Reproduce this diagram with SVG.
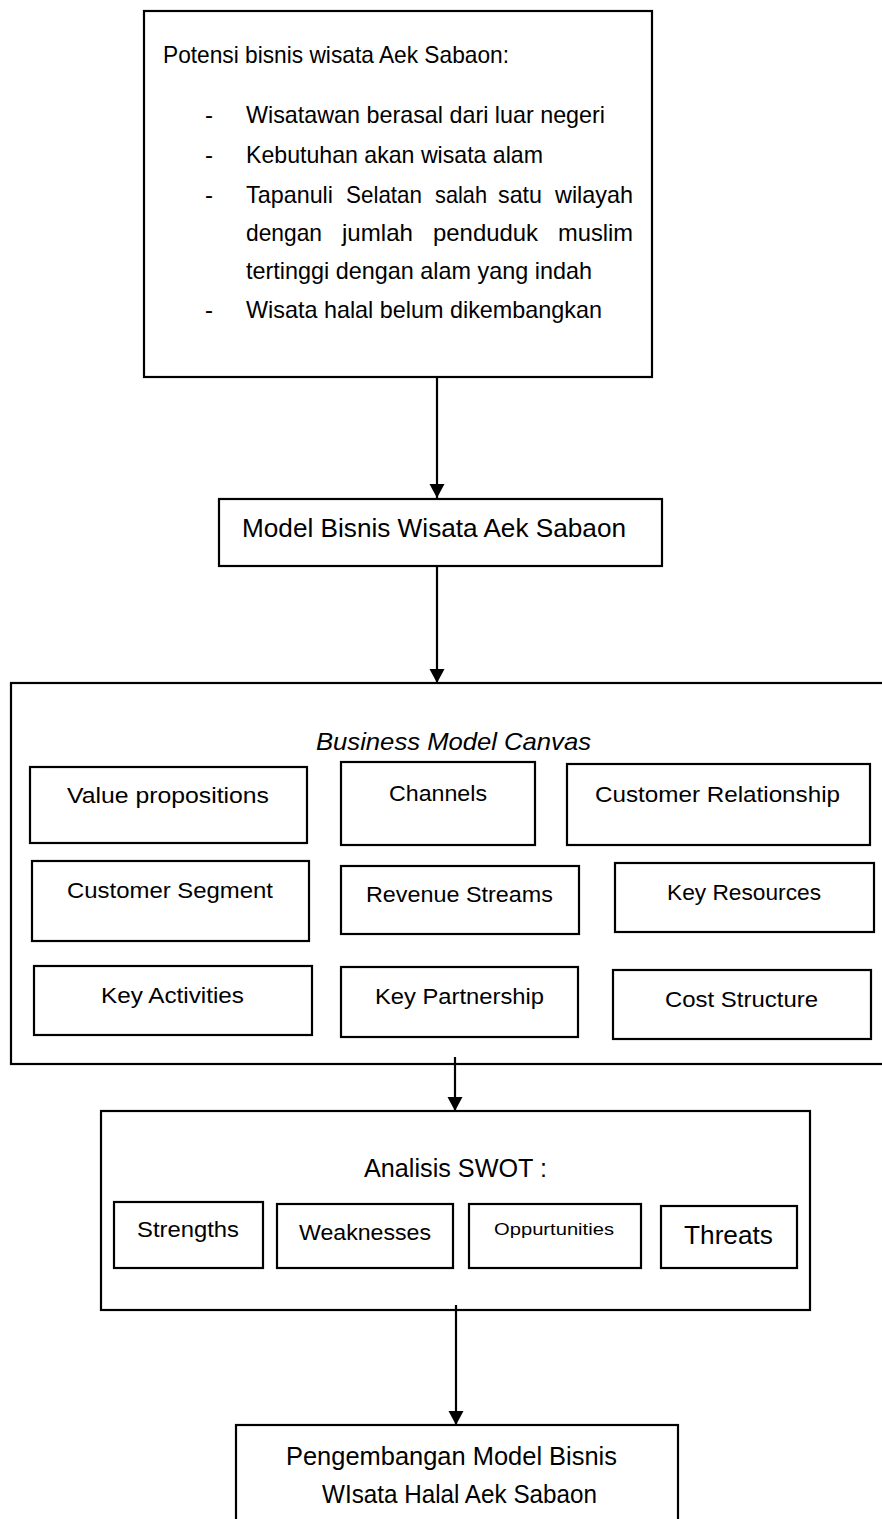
<svg xmlns="http://www.w3.org/2000/svg" width="882" height="1519" viewBox="0 0 882 1519">
<style>
rect{fill:#fff;stroke:#000;stroke-width:2.2}
text{font-family:"Liberation Sans",Arial,sans-serif;fill:#000}
.c line{stroke:#000;stroke-width:2.2}
.t23{font-size:24px}
.t22{font-size:22px}
.t24{font-size:25px}
</style>
<defs>
<marker id="arr" markerWidth="16" markerHeight="16" refX="14" refY="7.5" orient="auto" markerUnits="userSpaceOnUse"><path d="M0,0 L14,7.5 L0,15 z" fill="#000"/></marker>
</defs>
<rect x="-5" y="-5" width="892" height="1529" style="stroke:none"/>

<g id="potensi">
<rect x="144" y="11" width="508" height="366"/>
<text class="t23" x="163" y="63" textLength="346" lengthAdjust="spacingAndGlyphs">Potensi bisnis wisata Aek Sabaon:</text>
<text class="t23" x="205" y="123">-</text>
<text class="t23" x="246" y="123" textLength="359" lengthAdjust="spacingAndGlyphs">Wisatawan berasal dari luar negeri</text>
<text class="t23" x="205" y="163">-</text>
<text class="t23" x="246" y="163" textLength="297" lengthAdjust="spacingAndGlyphs">Kebutuhan akan wisata alam</text>
<text class="t23" x="205" y="203">-</text>
<text class="t23" y="203"><tspan x="246" textLength="87" lengthAdjust="spacingAndGlyphs">Tapanuli</tspan><tspan x="346" textLength="76" lengthAdjust="spacingAndGlyphs">Selatan</tspan><tspan x="435" textLength="52" lengthAdjust="spacingAndGlyphs">salah</tspan><tspan x="498" textLength="44" lengthAdjust="spacingAndGlyphs">satu</tspan><tspan x="555" textLength="78" lengthAdjust="spacingAndGlyphs">wilayah</tspan></text>
<text class="t23" y="241"><tspan x="246" textLength="76" lengthAdjust="spacingAndGlyphs">dengan</tspan><tspan x="342" textLength="71" lengthAdjust="spacingAndGlyphs">jumlah</tspan><tspan x="433" textLength="105" lengthAdjust="spacingAndGlyphs">penduduk</tspan><tspan x="558" textLength="75" lengthAdjust="spacingAndGlyphs">muslim</tspan></text>
<text class="t23" x="246" y="279" textLength="346" lengthAdjust="spacingAndGlyphs">tertinggi dengan alam yang indah</text>
<text class="t23" x="205" y="318">-</text>
<text class="t23" x="246" y="318" textLength="356" lengthAdjust="spacingAndGlyphs">Wisata halal belum dikembangkan</text>
</g>

<g id="model">
<rect x="219" y="499" width="443" height="67"/>
<text class="t24" x="242" y="537" textLength="384" lengthAdjust="spacingAndGlyphs">Model Bisnis Wisata Aek Sabaon</text>
</g>

<g id="canvas">
<rect x="11" y="683" width="885" height="381"/>
<text class="t23" x="316" y="750" font-style="italic" textLength="275" lengthAdjust="spacingAndGlyphs">Business Model Canvas</text>
</g>
<g id="value-propositions">
<rect x="30" y="767" width="277" height="76"/>
<text class="t22" x="67" y="803" textLength="202" lengthAdjust="spacingAndGlyphs">Value propositions</text>
</g>
<g id="channels">
<rect x="341" y="762" width="194" height="83"/>
<text class="t22" x="389" y="801" textLength="98" lengthAdjust="spacingAndGlyphs">Channels</text>
</g>
<g id="customer-relationship">
<rect x="567" y="764" width="303" height="81"/>
<text class="t22" x="595" y="802" textLength="245" lengthAdjust="spacingAndGlyphs">Customer Relationship</text>
</g>
<g id="customer-segment">
<rect x="32" y="861" width="277" height="80"/>
<text class="t22" x="67" y="898" textLength="206" lengthAdjust="spacingAndGlyphs">Customer Segment</text>
</g>
<g id="revenue-streams">
<rect x="341" y="866" width="238" height="68"/>
<text class="t22" x="366" y="902" textLength="187" lengthAdjust="spacingAndGlyphs">Revenue Streams</text>
</g>
<g id="key-resources">
<rect x="615" y="863" width="259" height="69"/>
<text class="t22" x="667" y="900" textLength="154" lengthAdjust="spacingAndGlyphs">Key Resources</text>
</g>
<g id="key-activities">
<rect x="34" y="966" width="278" height="69"/>
<text class="t22" x="101" y="1003" textLength="143" lengthAdjust="spacingAndGlyphs">Key Activities</text>
</g>
<g id="key-partnership">
<rect x="341" y="967" width="237" height="70"/>
<text class="t22" x="375" y="1004" textLength="169" lengthAdjust="spacingAndGlyphs">Key Partnership</text>
</g>
<g id="cost-structure">
<rect x="613" y="970" width="258" height="69"/>
<text class="t22" x="665" y="1007" textLength="153" lengthAdjust="spacingAndGlyphs">Cost Structure</text>
</g>

<g id="swot">
<rect x="101" y="1111" width="709" height="199"/>
<text class="t24" x="364" y="1177" textLength="183" lengthAdjust="spacingAndGlyphs">Analisis SWOT :</text>
</g>
<g id="strengths">
<rect x="114" y="1202" width="149" height="66"/>
<text class="t22" x="137" y="1237" textLength="102" lengthAdjust="spacingAndGlyphs">Strengths</text>
</g>
<g id="weaknesses">
<rect x="277" y="1204" width="176" height="64"/>
<text class="t22" x="299" y="1240" textLength="132" lengthAdjust="spacingAndGlyphs">Weaknesses</text>
</g>
<g id="oppurtunities">
<rect x="469" y="1204" width="172" height="64"/>
<text x="494" y="1235" font-size="17" textLength="120" lengthAdjust="spacingAndGlyphs">Oppurtunities</text>
</g>
<g id="threats">
<rect x="661" y="1206" width="136" height="62"/>
<text x="684" y="1244" font-size="25" textLength="89" lengthAdjust="spacingAndGlyphs">Threats</text>
</g>

<g id="pengembangan">
<rect x="236" y="1425" width="442" height="110"/>
<text x="286" y="1465" font-size="25" textLength="331" lengthAdjust="spacingAndGlyphs">Pengembangan Model Bisnis</text>
<text x="322" y="1503" font-size="25" textLength="275" lengthAdjust="spacingAndGlyphs">WIsata Halal Aek Sabaon</text>
</g>

<g id="connectors" class="c">
<line x1="437" y1="377" x2="437" y2="498" marker-end="url(#arr)"/>
<line x1="437" y1="566" x2="437" y2="683" marker-end="url(#arr)"/>
<line x1="455" y1="1057" x2="455" y2="1111" marker-end="url(#arr)"/>
<line x1="456" y1="1305" x2="456" y2="1425" marker-end="url(#arr)"/>
</g>
</svg>
